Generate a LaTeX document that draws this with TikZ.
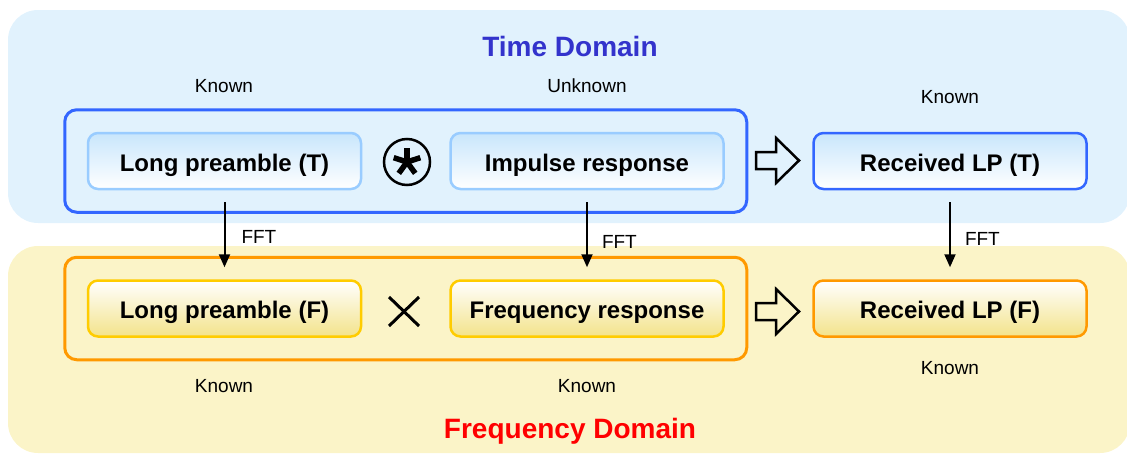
\documentclass[tikz,border=0pt]{standalone}
\usepackage{fontspec}
\setmainfont{Liberation Sans}
\usetikzlibrary{arrows.meta,positioning,fit,calc}
\definecolor{bgT}{RGB}{225,242,253}
\definecolor{bgF}{RGB}{251,244,200}
\definecolor{lineT}{RGB}{51,102,255}
\definecolor{lightT}{RGB}{153,204,255}
\definecolor{shadeT}{RGB}{200,230,252}
\definecolor{lineF}{RGB}{255,153,0}
\definecolor{lightF}{RGB}{255,204,0}
\definecolor{shadeF}{RGB}{243,227,138}
\definecolor{ttlT}{RGB}{51,51,204}
\begin{document}
\begin{tikzpicture}[x=1pt,y=-1pt,>={Triangle[width=11pt,length=13pt]},
 blk/.style={rounded corners=10pt,minimum width=273pt,minimum height=56pt,line width=2.5pt,inner sep=0pt,text height=20pt,text depth=0pt,font=\fontsize{24}{28}\selectfont\bfseries},
 tblk/.style={blk,draw=lightT,top color=shadeT,bottom color=white},
 fblk/.style={blk,draw=lightF,top color=white,bottom color=shadeF},
 frm/.style={draw,rounded corners=12pt,line width=3pt,inner sep=22pt},
 lab/.style={font=\fontsize{19}{22}\selectfont,inner sep=1pt},
 ttl/.style={font=\fontsize{28}{32}\selectfont\bfseries},
 fft/.style={->,line width=2pt,shorten <=12pt,shorten >=12pt},
 hollow/.style={draw,line width=2.5pt,line join=miter}]
\useasboundingbox (0,0) rectangle (1127,455);
% domain backgrounds
\fill[bgT,rounded corners=30pt] (8,10) rectangle (1130,223);
\fill[bgF,rounded corners=30pt] (8,246) rectangle (1130,453);
\node[ttl,text=ttlT] (tT) at (570,46) {Time Domain};
\node[ttl,text=red] (tF) at (570,431) {Frequency Domain};
% time domain row
\node[tblk] (lpT) at (224.5,161) {Long preamble (T)};
\node[tblk] (irT) at (587,161) {Impulse response};
\node[tblk,draw=lineT] (rxT) at (950,161) {Received LP (T)};
\node[frm,draw=lineT,fit=(lpT)(irT)] (frT) {};
\node[circle,draw,line width=2.5pt,minimum size=46pt,inner sep=0pt] (conv) at (407,162) {};
\foreach \a in {90,18,162,234,306} \draw[line width=5.5pt] (conv.center) -- ++(\a:14pt);
% frequency domain row
\node[fblk] (lpF) at (224.5,308.5) {Long preamble (F)};
\node[fblk] (frF) at (587,308.5) {Frequency response};
\node[fblk,draw=lineF] (rxF) at (950,308.5) {Received LP (F)};
\node[frm,draw=lineF,fit=(lpF)(frF)] (frmF) {};
\coordinate (mul) at (404,311.5);
\draw[line width=3pt] ($(mul)+(-15,-14.5)$) -- ($(mul)+(15,14.5)$);
\draw[line width=3pt] ($(mul)+(15,-14.5)$) -- ($(mul)+(-15,14.5)$);
% hollow arrows
\draw[hollow] (756,152) -- ++(20,0) -- ++(0,-14) -- ++(23,22.5) -- ++(-23,22.5) -- ++(0,-14) -- ++(-20,0) -- cycle;
\draw[hollow] (756,303) -- ++(20,0) -- ++(0,-14) -- ++(23,22.5) -- ++(-23,22.5) -- ++(0,-14) -- ++(-20,0) -- cycle;
% FFT arrows
\draw[fft] (lpT) -- node[lab,pos=.52,right=15pt]{FFT} (lpF);
\draw[fft] (irT) -- node[lab,pos=.58,right=13pt]{FFT} (frF);
\draw[fft] (rxT) -- node[lab,pos=.55,right=13pt]{FFT} (rxF);
% known / unknown
\node[lab] (kT1) at (224,86) {Known};
\node[lab] (kT2) at (587,86) {Unknown};
\node[lab] (kT3) at (950,97) {Known};
\node[lab] (kF1) at (224,386) {Known};
\node[lab] (kF2) at (587,386) {Known};
\node[lab] (kF3) at (950,368) {Known};
\end{tikzpicture}
\end{document}
